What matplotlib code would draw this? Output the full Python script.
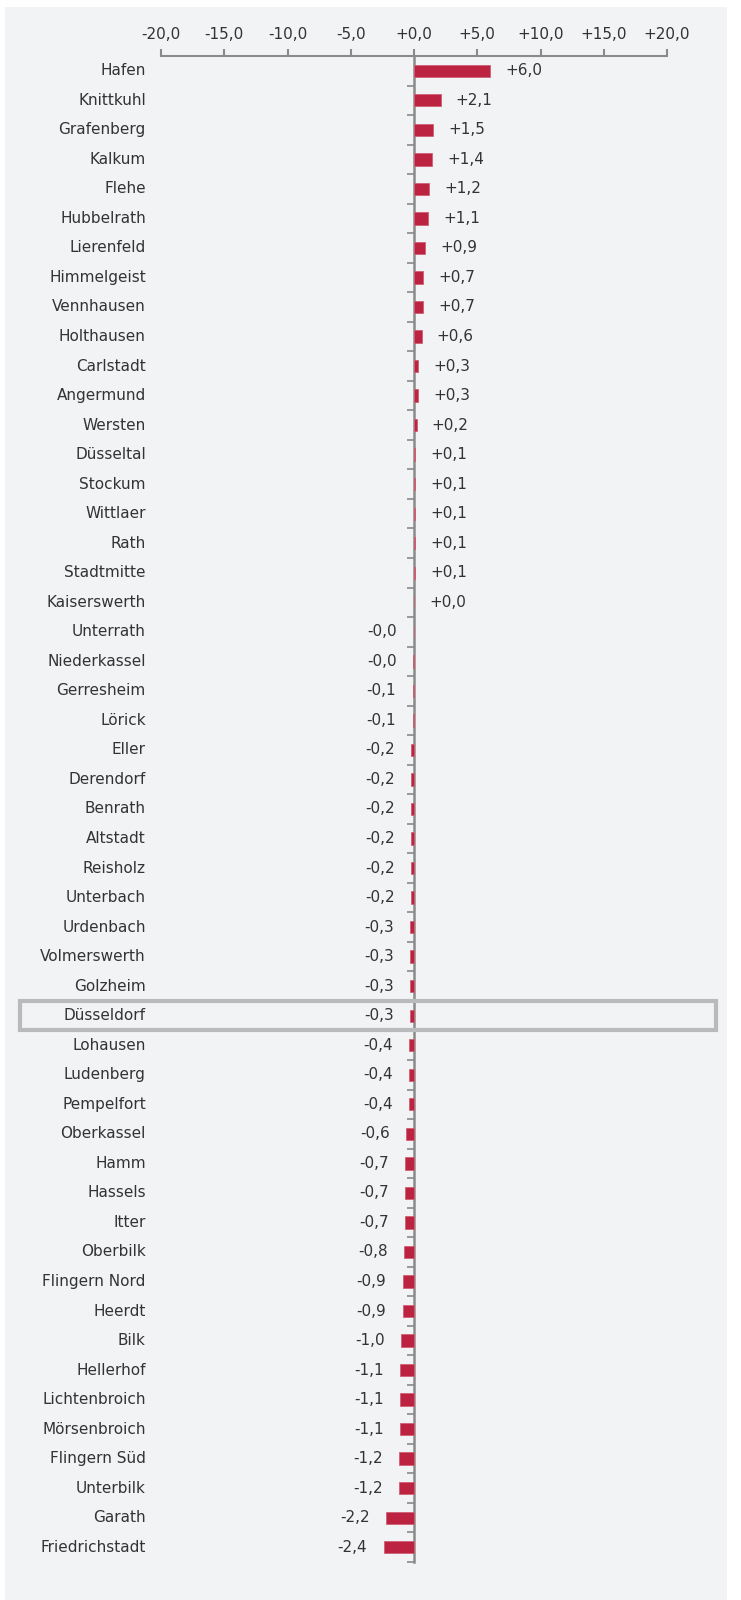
import matplotlib.pyplot as plt
from matplotlib.patches import Rectangle

plt.rcParams['font.family'] = ['DejaVu Sans']

# districts and change values
districts = ['Hafen', 'Knittkuhl', 'Grafenberg', 'Kalkum', 'Flehe', 'Hubbelrath',
             'Lierenfeld', 'Himmelgeist', 'Vennhausen', 'Holthausen', 'Carlstadt',
             'Angermund', 'Wersten', 'Düsseltal', 'Stockum', 'Wittlaer', 'Rath',
             'Stadtmitte', 'Kaiserswerth', 'Unterrath', 'Niederkassel', 'Gerresheim',
             'Lörick', 'Eller', 'Derendorf', 'Benrath', 'Altstadt', 'Reisholz',
             'Unterbach', 'Urdenbach', 'Volmerswerth', 'Golzheim', 'Düsseldorf',
             'Lohausen', 'Ludenberg', 'Pempelfort', 'Oberkassel', 'Hamm', 'Hassels',
             'Itter', 'Oberbilk', 'Flingern Nord', 'Heerdt', 'Bilk', 'Hellerhof',
             'Lichtenbroich', 'Mörsenbroich', 'Flingern Süd', 'Unterbilk', 'Garath',
             'Friedrichstadt']
values = [6.0, 2.1, 1.5, 1.4, 1.2, 1.1, 0.9, 0.7, 0.7, 0.6, 0.3, 0.3, 0.2, 0.1,
          0.1, 0.1, 0.1, 0.1, 0.02, -0.02, -0.04, -0.1, -0.1, -0.2, -0.2, -0.2,
          -0.2, -0.2, -0.2, -0.3, -0.3, -0.3, -0.3, -0.4, -0.4, -0.4, -0.6, -0.7,
          -0.7, -0.7, -0.8, -0.9, -0.9, -1.0, -1.1, -1.1, -1.1, -1.2, -1.2, -2.2,
          -2.4]
highlight = 'Düsseldorf'
xticks = [-20, -15, -10, -5, 0, 5, 10, 15, 20]

W, H = 741, 1600
bar_color = '#bb2340'
axis_gray = '#8a8a8a'
text_color = '#333333'
fs = 11

fig = plt.figure(figsize=(W / 100, H / 100), dpi=100, facecolor='white')
bg = Rectangle((5 / W, 0), 722 / W, 1 - 7 / H, transform=fig.transFigure,
               facecolor='#f2f3f5', edgecolor='none', zorder=-10)
fig.add_artist(bg)

ax_top, ax_bot = 56, 1562
ax = fig.add_axes([161 / W, 1 - ax_bot / H, 506 / W, (ax_bot - ax_top) / H])
ax.set_facecolor('none')
ax.set_zorder(1)

n = len(districts)
ypos = list(range(n))
ax.barh(ypos, values, height=0.42, color=bar_color, edgecolor='#d06075', linewidth=0.6, zorder=3)
ax.set_xlim(-20, 20)
ax.set_ylim(n - 0.5, -0.5)

def fmt(v):
    s = '%+.1f' % v
    if v < 0 and s == '+0.0':
        s = '-0.0'
    return s.replace('.', ',')

for y, v, name in zip(ypos, values, districts):
    if v >= 0:
        ax.text(v + 1.2, y, fmt(v), ha='left', va='center', fontsize=fs, color=text_color)
    else:
        ax.text(v - 1.3, y, fmt(v), ha='right', va='center', fontsize=fs, color=text_color)
    ax.text(-21.2, y, name, ha='right', va='center', fontsize=fs, color=text_color)

# highlight box
hi = districts.index(highlight)
x0 = (20 - 161) / 506 * 40 - 20
x1 = (716 - 161) / 506 * 40 - 20
ax.add_patch(Rectangle((x0, hi - 0.5), x1 - x0, 1.0, facecolor='none', edgecolor='#b8babc',
                       linewidth=3, clip_on=False, zorder=4))

# axes styling
for s in ['right', 'bottom']:
    ax.spines[s].set_visible(False)
ax.spines['top'].set_color(axis_gray)
ax.spines['top'].set_linewidth(1.5)
ax.spines['left'].set_position(('data', 0))
ax.spines['left'].set_color(axis_gray)
ax.spines['left'].set_linewidth(1.8)
ax.xaxis.tick_top()
ax.set_xticks(xticks)
ax.set_xticklabels([fmt(t) if t != 0 else '+0,0' for t in xticks], fontsize=fs, color=text_color)
ax.tick_params(axis='x', direction='out', length=5, width=1.5, color=axis_gray, pad=5)
ax.set_yticks([i + 0.5 for i in range(n)])
ax.set_yticklabels([])
ax.tick_params(axis='y', direction='out', length=5, width=1.2, color=axis_gray)

fig.savefig('out.png', dpi=100, facecolor='white')
